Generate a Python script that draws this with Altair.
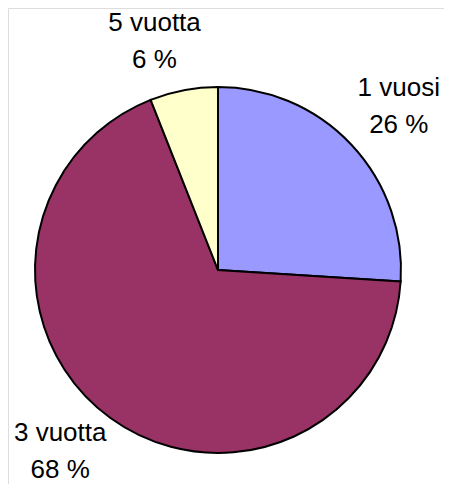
import altair as alt
import pandas as pd

categories = ["1 vuosi", "3 vuotta", "5 vuotta"]
percents = [26, 68, 6]
colors = ["#9999FF", "#993366", "#FFFFCC"]

df = pd.DataFrame({
    "cat": categories,
    "pct": percents,
    "idx": list(range(len(categories))),
})
df["label"] = [f"{c}\n{p} %" for c, p in zip(categories, percents)]

base = alt.Chart(df).encode(
    theta=alt.Theta("pct:Q", stack=True),
    order=alt.Order("idx:Q"),
    x=alt.value(210),
    y=alt.value(262),
)

pie = base.mark_arc(outerRadius=183, stroke="black", strokeWidth=2).encode(
    color=alt.Color("cat:N", scale=alt.Scale(domain=categories, range=colors), legend=None)
)

# small per-label nudges (style) to mimic the spreadsheet label placement
nudges = {"1 vuosi": (0, -12), "3 vuotta": (-12, -38), "5 vuotta": (-17, -3)}

layers = [pie]
for cat, (ddx, ddy) in nudges.items():
    layers.append(
        base.mark_text(
            radius=248, lineBreak="\n", font="Liberation Sans", fontSize=26,
            color="black", lineHeight=37, align="center", baseline="middle",
            dx=ddx, dy=ddy,
        ).encode(
            text="label:N",
            opacity=alt.condition(alt.datum.cat == cat, alt.value(1), alt.value(0)),
        )
    )

chart = alt.layer(*layers).properties(
    width=436, height=476, padding=0,
    autosize=alt.AutoSizeParams(type="none"),
).configure_view(strokeWidth=0, strokeOpacity=0).configure(background="white")

chart.save("out.html", embed_options={"renderer": "svg", "actions": False})
